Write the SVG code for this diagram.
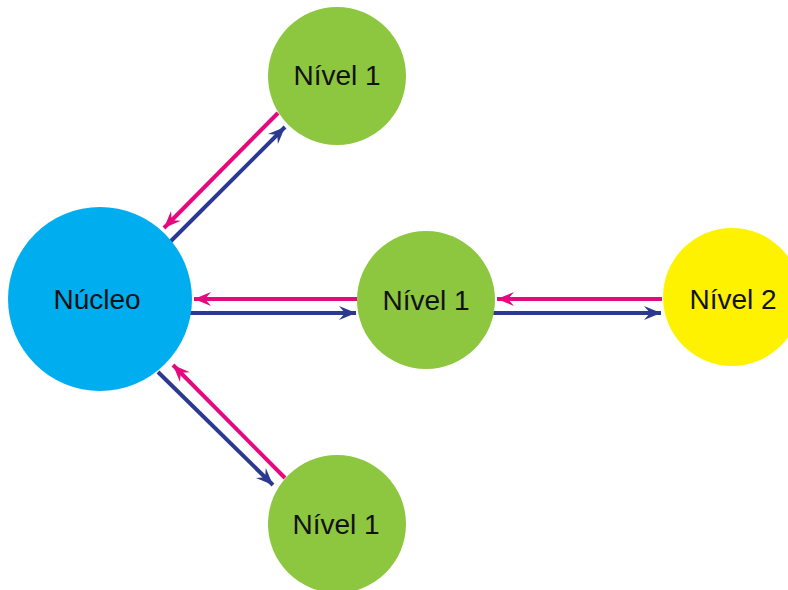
<svg xmlns="http://www.w3.org/2000/svg" width="788" height="590" viewBox="0 0 788 590">
<style>
.lbl{font-family:"Liberation Sans",Arial,sans-serif;font-size:28px;fill:#111;text-anchor:middle}
.pk{stroke:#E5087E;stroke-width:4;fill:none;marker-end:url(#ah-pk)}
.bl{stroke:#2B3990;stroke-width:4;fill:none;marker-end:url(#ah-bl)}
</style>
<defs>
<marker id="ah-pk" markerUnits="userSpaceOnUse" markerWidth="20" markerHeight="20" refX="0" refY="0" viewBox="-18 -8 20 16" orient="auto">
<path d="M0,0 L-17,-7 L-11,0 L-17,7 Z" fill="#E5087E"/>
</marker>
<marker id="ah-bl" markerUnits="userSpaceOnUse" markerWidth="20" markerHeight="20" refX="0" refY="0" viewBox="-18 -8 20 16" orient="auto">
<path d="M0,0 L-17,-7 L-11,0 L-17,7 Z" fill="#2B3990"/>
</marker>
</defs>
<rect width="788" height="590" fill="#fff"/>
<g id="connectors">
<path class="pk" d="M278,113 L164,228"/>
<path class="bl" d="M170,242 L285,127"/>
<path class="pk" d="M357,299 L194,299"/>
<path class="bl" d="M190,313 L356,313"/>
<path class="pk" d="M662,299 L497,299"/>
<path class="bl" d="M493,313 L661,313"/>
<path class="pk" d="M285,478 L173,365"/>
<path class="bl" d="M158,372 L273,485"/>
</g>
<g id="nucleo"><circle cx="100" cy="299" r="92" fill="#00AEEF"/><text class="lbl" x="97" y="309">Núcleo</text></g>
<g id="nivel1-top"><circle cx="337" cy="76" r="69" fill="#8DC63F"/><text class="lbl" x="337" y="85">Nível 1</text></g>
<g id="nivel1-mid"><circle cx="426" cy="300" r="69" fill="#8DC63F"/><text class="lbl" x="426" y="310">Nível 1</text></g>
<g id="nivel1-bottom"><circle cx="337" cy="524" r="69" fill="#8DC63F"/><text class="lbl" x="336" y="534">Nível 1</text></g>
<g id="nivel2"><circle cx="732" cy="297" r="69" fill="#FFF200"/><text class="lbl" x="733" y="309">Nível 2</text></g>
</svg>
